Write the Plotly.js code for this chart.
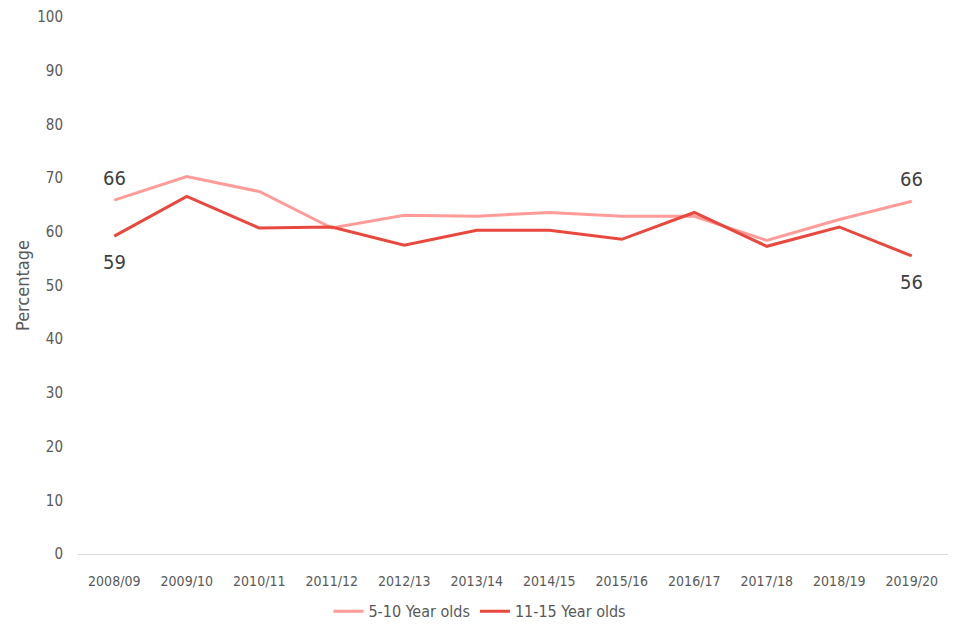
<!DOCTYPE html>
<html>
<head>
<meta charset="utf-8">
<script src="https://cdn.plot.ly/plotly-3.0.1.min.js"></script>
<style>html,body{margin:0;padding:0;background:#fff;}#chart{width:960px;height:640px;}</style>
</head>
<body>
<div id="chart"></div>
<script>
const years = ["2008/09","2009/10","2010/11","2011/12","2012/13","2013/14","2014/15","2015/16","2016/17","2017/18","2018/19","2019/20"];
const young = [65.9, 70.3, 67.5, 60.7, 63.1, 62.9, 63.6, 62.9, 62.9, 58.4, 62.3, 65.7];
const older = [59.2, 66.6, 60.7, 60.9, 57.5, 60.3, 60.3, 58.6, 63.6, 57.3, 60.9, 55.5];
const seriesNames = ["5-10 Year olds", "11-15 Year olds"];
const colors = ["#FF9C9A", "#E8483D"];

const fontFam = "'DejaVu Sans Condensed', 'Liberation Sans Narrow', Arial, sans-serif";
const traces = [
  {x: years, y: young, name: seriesNames[0], type: "scatter", mode: "lines", line: {color: colors[0], width: 3}},
  {x: years, y: older, name: seriesNames[1], type: "scatter", mode: "lines", line: {color: colors[1], width: 3}}
];
const last = years.length - 1;
const ann = (xi, arr, shift) => ({
  x: years[xi], y: arr[xi], text: String(Math.round(arr[xi])), showarrow: false,
  yshift: shift, font: {family: fontFam, size: 20, color: "#404040"}
});
const layout = {
  width: 960, height: 640,
  margin: {l: 78, r: 12, t: 17, b: 84},
  paper_bgcolor: "#fff", plot_bgcolor: "#fff",
  font: {family: fontFam, size: 14, color: "#595959"},
  xaxis: {
    type: "category", range: [-0.5, 11.5], showgrid: false, zeroline: false,
    showline: true, linecolor: "#d9d9d9", linewidth: 1, ticks: "", ticklabelstandoff: 14,
    tickfont: {family: fontFam, size: 14, color: "#595959"}
  },
  yaxis: {
    range: [0, 100], dtick: 10, showgrid: false, zeroline: false, showline: false,
    ticks: "", ticklabelstandoff: 14,
    tickfont: {family: fontFam, size: 15, color: "#595959"},
    title: {text: "Percentage", font: {family: fontFam, size: 18, color: "#595959"}, standoff: 2}
  },
  showlegend: true,
  legend: {orientation: "h", x: 0.462, xanchor: "center", y: -0.075, yanchor: "top",
    font: {family: fontFam, size: 16, color: "#595959"}, traceorder: "normal"},
  annotations: [ann(0, young, 22), ann(0, older, -26), ann(last, young, 22), ann(last, older, -26)]
};
Plotly.newPlot("chart", traces, layout, {displayModeBar: false, staticPlot: true});
</script>
</body>
</html>
